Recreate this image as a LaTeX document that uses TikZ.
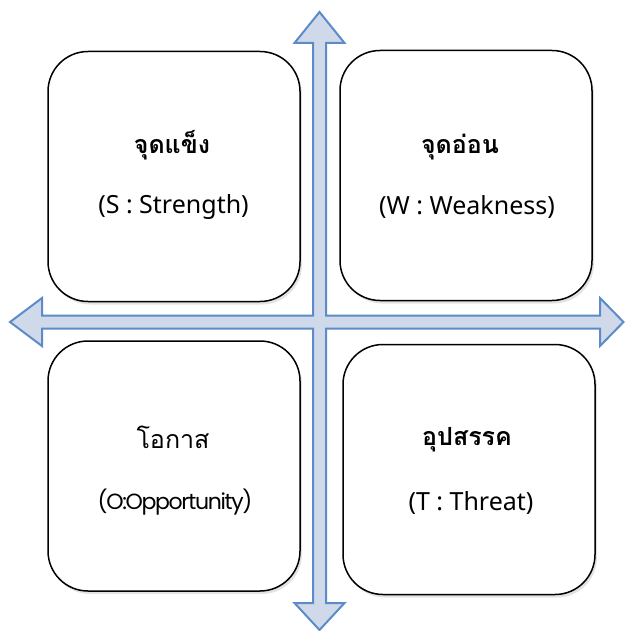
\documentclass[tikz,border=0pt]{standalone}
\usepackage{fontspec}
\setmainfont{Noto Sans}
\newfontfamily\thaifont[Script=Thai]{Loma}
\newfontfamily\geofont[LetterSpace=-6]{Poppins}
\usetikzlibrary{shadows}
\definecolor{crossfill}{HTML}{D0D9EA}
\definecolor{crossline}{HTML}{5B8BC9}
\tikzset{
  quadbox/.style={draw=black, line width=1.5pt, fill=white, rectangle,
    rounded corners=40pt, minimum width=252pt, minimum height=250pt,
    inner sep=0pt,
    drop shadow={opacity=0.22, shadow xshift=2pt, shadow yshift=-3pt}},
  thaititle/.style={font=\thaifont\fontsize{25}{30}\selectfont, inner sep=0pt},
  engtitle/.style={font=\fontsize{25}{30}\selectfont, inner sep=0pt},
}
\begin{document}
\begin{tikzpicture}[x=1pt, y=-1pt]
  \useasboundingbox (0,0) rectangle (625,631);
  % four quadrant panels
  \node[quadbox] (s) at (174,176.5) {};
  \node[quadbox] (w) at (466,175.5) {};
  \node[quadbox] (o) at (174,466) {};
  \node[quadbox] (t) at (469,469.5) {};
  % four-way block arrow drawn over the gaps
  \draw[line width=2pt, draw=crossline, fill=crossfill, line join=miter]
    (319.5,12) -- (344.5,43) -- (326,43) -- (326,315.5) -- (600,315.5)
    -- (600,298) -- (623.5,322) -- (600,346) -- (600,328.5) -- (326,328.5)
    -- (326,603) -- (344.5,603) -- (319.5,630) -- (294.5,603) -- (313,603)
    -- (313,328.5) -- (42,328.5) -- (42,346) -- (10,322) -- (42,298)
    -- (42,315.5) -- (313,315.5) -- (313,43) -- (294.5,43) -- cycle;
  % panel labels
  \node[thaititle, font=\thaifont\bfseries\fontsize{25}{30}\selectfont] (sth) at (172,145) {จุดแข็ง};
  \node[engtitle] (sen) at (173.5,207) {(S : Strength)};
  \node[thaititle, font=\thaifont\bfseries\fontsize{25}{30}\selectfont] (wth) at (460,147) {จุดอ่อน};
  \node[engtitle] (wen) at (467,207) {(W : Weakness)};
  \node[thaititle] (oth) at (173,437) {โอกาส};
  \node[engtitle, font=\geofont\fontsize{22}{26}\selectfont] (oen) at (175,502) {(O:Opportunity)};
  \node[thaititle, font=\thaifont\bfseries\fontsize{25}{30}\selectfont] (tth) at (467,440) {อุปสรรค};
  \node[engtitle] (ten) at (471,503) {(T : Threat)};
\end{tikzpicture}
\end{document}
